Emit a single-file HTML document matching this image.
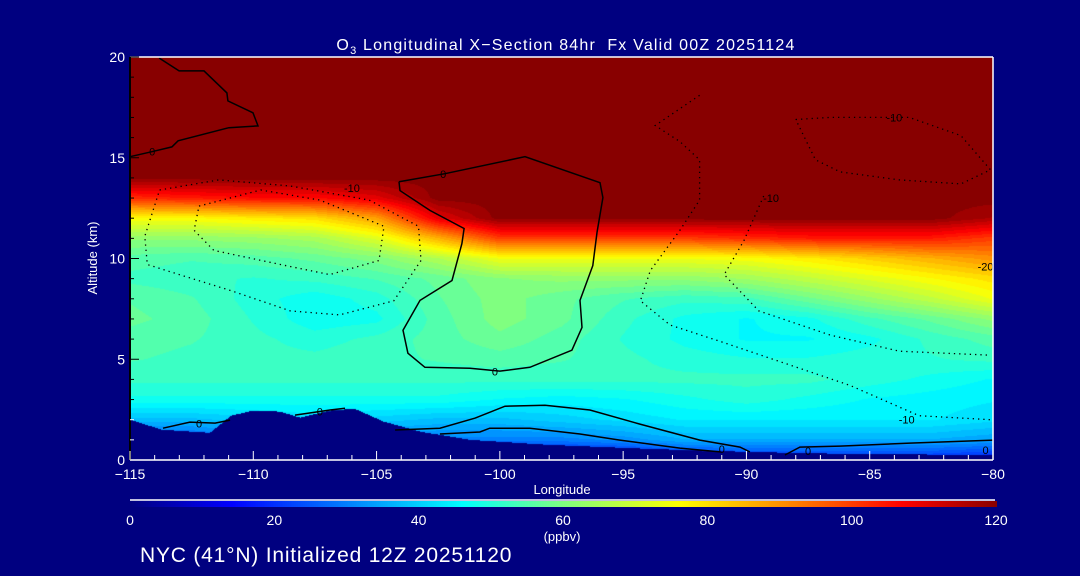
<!DOCTYPE html>
<html><head><meta charset="utf-8">
<style>
html,body{margin:0;padding:0;background:#000080;}
#wrap{position:relative;width:1080px;height:576px;background:#000080;overflow:hidden;font-family:"Liberation Sans",sans-serif;color:#fff;}
canvas{position:absolute;}
svg{position:absolute;left:0;top:0;}
</style></head>
<body>
<div id="wrap">
<canvas id="field" width="863" height="403" style="left:130px;top:57px"></canvas>
<canvas id="cbar" width="867" height="6" style="left:130px;top:501px"></canvas>
<svg id="ov" width="1080" height="576"></svg>
</div>
<script>
// ---- data ----
const lons = [-115,-112.5,-110,-107.5,-105,-102.5,-100,-97.5,-95,-92.5,-90,-87.5,-85,-82.5,-80];
const alts = [0,1,2,3,4,5,6,7,8,9,10,11,12,13,14,15,16,17,18,19,20];
const row0  = [12,12,12,12,12,12,12,12,12,16,18,18,18,18,16];
const row1  = [25,25,30,30,30,30,30,30,32,36,36,36,36,36,34];
const row2  = [38,38,40,42,40,38,38,40,42,44,44,44,44,44,42];
const row3  = [48,48,48,48,48,48,46,45,46,48,50,48,46,45,44];
const row4  = [52,52,52,52,52,52,52,52,52,52,52,52,50,48,46];
const row5  = [54,53,52,52,53,54,55,54,52,50,49,49,50,51,52];
const row6  = [55,54,52,50,52,55,58,55,51,48,46,46,48,52,55];
const row7  = [57,55,51,47,48,55,60,57,52,48,46,48,53,57,62];
const row8  = [56,54,50,47,50,56,60,57,54,52,53,58,63,68,74];
const row9  = [53,52,51,52,54,57,61,62,62,62,64,68,72,76,80];
const row10 = [55,54,55,57,60,66,74,74,74,74,75,78,82,86,90];
const row11 = [62,62,63,65,72,86,100,100,100,100,102,104,104,104,100];
const row12 = [76,76,78,80,88,110,120,120,120,120,120,120,120,120,116];
const row13 = [102,104,106,106,110,120,120,120,120,120,120,120,120,120,120];
const rowTop = [120,120,120,120,120,120,120,120,120,120,120,120,120,120,120];
const grid = [row0,row1,row2,row3,row4,row5,row6,row7,row8,row9,row10,row11,row12,row13,rowTop,rowTop,rowTop,rowTop,rowTop,rowTop,rowTop];
const terrLon = [-115,-113.7,-111.75,-110.9,-110,-108.9,-108.1,-106.9,-105.9,-104.7,-103.2,-101.2,-98,-93.9,-89.9,-85.8,-80];
const terrAlt = [2.0,1.5,1.35,2.2,2.45,2.4,2.1,2.45,2.55,1.9,1.4,1.0,0.75,0.55,0.4,0.3,0.25];
const xTicks = [-115,-110,-105,-100,-95,-90,-85,-80];
const yTicks = [0,5,10,15,20];
const cbTicks = [0,20,40,60,80,100,120];
// contours (lon, alt)
const c0LoopLon = [-104.09,-102.23,-98.98,-95.94,-95.82,-96.06,-96.23,-96.75,-96.67,-97.08,-98.78,-100,-101.21,-103.04,-103.73,-103.93,-103.24,-101.94,-101.54,-101.45,-102.83,-104.05,-104.09];
const c0LoopAlt = [13.81,14.21,15.05,13.76,13.02,11.29,9.65,7.92,6.58,5.45,4.60,4.41,4.55,4.60,5.30,6.44,7.92,8.91,10.74,11.49,12.38,13.37,13.81];
const c0ULLon = [-113.82,-113.01,-112.0,-111.07,-111.03,-110.01,-109.81,-110.99,-113.05,-113.30,-114.11,-115];
const c0ULAlt = [19.95,19.31,19.31,18.22,17.82,17.23,16.58,16.49,15.84,15.54,15.30,15.05];
const c0ALon = [-104.25,-102.43,-101.0,-99.79,-98.17,-96.35,-94.32,-91.89,-90.26,-89.86];
const c0AAlt = [1.49,1.58,2.08,2.67,2.72,2.48,1.78,0.99,0.64,0.40];
const c0BLon = [-102.43,-100.81,-100.41,-98.78,-96.75,-95.13,-92.7,-91.07];
const c0BAlt = [1.29,1.39,1.58,1.58,1.29,0.99,0.59,0.40];
const c0CLon = [-88.44,-87.83,-86.21,-83.37,-80];
const c0CAlt = [0.25,0.64,0.69,0.84,0.99];
const c0DLon = [-113.66,-112.57,-111.55,-110.94];
const c0DAlt = [1.58,1.88,1.83,1.98];
const c0ELon = [-108.31,-106.89,-106.28];
const c0EAlt = [2.23,2.48,2.57];
const cW1Lon = [-113.8,-111.4,-108.5,-105.3,-103.3,-103.2,-104.3,-106.5,-108.5,-110.9,-113.0,-114.3,-114.4,-113.8];
const cW1Alt = [13.4,13.9,13.6,12.9,11.6,9.9,7.9,7.2,7.4,8.4,9.2,9.7,11.1,13.4];
const cW2Lon = [-112.2,-109.7,-107.3,-104.7,-104.9,-106.9,-108.9,-111.6,-112.4,-112.2];
const cW2Alt = [12.6,13.4,12.9,11.6,9.9,9.2,9.7,10.4,11.4,12.6];
const cE1Lon = [-88.0,-86.6,-83.4,-81.3,-80.1,-81.3,-83.8,-86.2,-87.2,-88.0];
const cE1Alt = [16.9,17.0,17.0,16.1,14.4,13.7,13.9,14.3,14.9,16.9];
const cE2Lon = [-91.9,-93.7,-92.7,-91.9,-91.9,-92.7,-93.9,-94.3,-93.1,-91.1,-88.2,-85.8,-83.0,-80.1];
const cE2Alt = [18.1,16.6,15.8,14.9,12.9,11.4,9.4,7.9,6.7,5.9,4.7,3.7,2.2,2.0];
const cE3Lon = [-89.3,-90.1,-90.9,-89.5,-86.6,-83.8,-80.1];
const cE3Alt = [13.1,10.9,9.2,7.4,6.2,5.4,5.2];

// ---- scales ----
const X0=130,X1=993,Y0=460,Y1=57;
const xs = lon => X0 + (lon+115)/35*(X1-X0);
const ys = a => Y0 - a/20*(Y0-Y1);
const stops=[[0,[0,0,128]],[14,[0,0,255]],[30,[0,128,255]],[46,[0,255,255]],[60,[128,255,128]],[76,[255,255,0]],[92,[255,128,0]],[107,[255,0,0]],[120,[136,0,0]]];
function cmap(v){
  v=Math.max(0,Math.min(120,v));
  for(let i=1;i<stops.length;i++){ if(v<=stops[i][0]){const a=stops[i-1],b=stops[i];const t=(v-a[0])/(b[0]-a[0]);return a[1].map((c,k)=>Math.round(c+(b[1][k]-c)*t));}}
  return stops[stops.length-1][1];
}
function interp(arrX,arrY,x){
  if(x<=arrX[0])return arrY[0];
  for(let i=1;i<arrX.length;i++){if(x<=arrX[i]){const t=(x-arrX[i-1])/(arrX[i]-arrX[i-1]);return arrY[i-1]+(arrY[i]-arrY[i-1])*t;}}
  return arrY[arrY.length-1];
}
function val(lon,alt){
  const fi=(lon-lons[0])/(lons[1]-lons[0]);let i=Math.floor(fi);i=Math.max(0,Math.min(lons.length-2,i));const tx=fi-i;
  const fj=alt/(alts[1]-alts[0]);let j=Math.floor(fj);j=Math.max(0,Math.min(alts.length-2,j));const ty=fj-j;
  const a=grid[j][i],b=grid[j][i+1],c=grid[j+1][i],d=grid[j+1][i+1];
  return (a*(1-tx)+b*tx)*(1-ty)+(c*(1-tx)+d*tx)*ty;
}
// field
const fc=document.getElementById('field').getContext('2d');
const W=863,H=403;const img=fc.createImageData(W,H);
for(let py=0;py<H;py++){for(let px=0;px<W;px++){
  const lon=-115+(px+0.5)/W*35, alt=20-(py+0.5)/H*20;
  const ta=interp(terrLon,terrAlt,lon);
  let col;
  if(alt<ta){col=[0,0,128];}
  else{let v=val(lon,alt);v=Math.round(v/2.5)*2.5;col=cmap(v);}
  const k=(py*W+px)*4;img.data[k]=col[0];img.data[k+1]=col[1];img.data[k+2]=col[2];img.data[k+3]=255;
}}
fc.putImageData(img,0,0);
// colorbar
const cc=document.getElementById('cbar').getContext('2d');
for(let px=0;px<867;px++){const c=cmap(px/866*120);cc.fillStyle=`rgb(${c[0]},${c[1]},${c[2]})`;cc.fillRect(px,0,1,6);}

// ---- overlay svg ----
const NS='http://www.w3.org/2000/svg';const ov=document.getElementById('ov');
function mk(tag,attrs,parent){const e=document.createElementNS(NS,tag);for(const k in attrs)e.setAttribute(k,attrs[k]);(parent||ov).appendChild(e);return e;}
function txt(x,y,s,size,anchor,name){const t=mk('text',{x:x,y:y,fill:'#fff','font-size':size,'text-anchor':anchor||'middle','font-family':'Liberation Sans, sans-serif'});t.textContent=s;


return t;}
function contour(lonA,altA,dotted,name){
  const pts=lonA.map((l,i)=>xs(l).toFixed(1)+','+ys(altA[i]).toFixed(1)).join(' ');
  const p=mk('polyline',{points:pts,fill:'none',stroke:'#000','stroke-width':dotted?1.3:1.5,'stroke-dasharray':dotted?'1.3 4':'none'});
  
  
}
contour(c0LoopLon,c0LoopAlt,false,'contour-zero-loop');
contour(c0ULLon,c0ULAlt,false,'contour-zero-upper-left');
contour(c0ALon,c0AAlt,false,'contour-zero-surface-a');
contour(c0BLon,c0BAlt,false,'contour-zero-surface-b');
contour(c0CLon,c0CAlt,false,'contour-zero-surface-c');
contour(c0DLon,c0DAlt,false,'contour-zero-surface-d');
contour(c0ELon,c0EAlt,false,'contour-zero-surface-e');
contour(cW1Lon,cW1Alt,true,'contour-neg-west-outer');
contour(cW2Lon,cW2Alt,true,'contour-neg-west-inner');
contour(cE1Lon,cE1Alt,true,'contour-neg-east-upper');
contour(cE2Lon,cE2Alt,true,'contour-neg-east-long');
contour(cE3Lon,cE3Alt,true,'contour-neg-east-mid');
// contour labels
const lblLon=[-114.1,-102.3,-100.2,-112.2,-107.3,-91.0,-87.5,-80.3,-106.0,-84.0,-89.0,-83.5,-80.3];
const lblAlt=[15.3,14.2,4.4,1.8,2.4,0.55,0.45,0.5,13.5,17.0,13.0,2.0,9.6];
const lblTxt=['0','0','0','0','0','0','0','0','-10','-10','-10','-10','-20'];
lblLon.forEach((l,i)=>{const t=mk('text',{x:xs(l),y:ys(lblAlt[i])+4,fill:'#000','font-size':11,'text-anchor':'middle','font-family':'Liberation Sans, sans-serif'});t.textContent=lblTxt[i];

});

// axes
const ax=mk('g',{});


mk('line',{x1:X0,y1:Y1,x2:X1,y2:Y1,stroke:'#fff','stroke-width':1.5},ax);
mk('line',{x1:X1,y1:Y1,x2:X1,y2:Y0,stroke:'#fff','stroke-width':1.5},ax);
mk('line',{x1:X0,y1:Y0,x2:X1,y2:Y0,stroke:'#fff','stroke-width':1.5},ax);
mk('line',{x1:X0,y1:Y1,x2:X0,y2:Y0,stroke:'#000','stroke-width':2},ax);
for(let l=-115;l<=-80;l++){const major=xTicks.includes(l);mk('line',{x1:xs(l),y1:Y0,x2:xs(l),y2:Y0-(major?9:5),stroke:'#fff','stroke-width':1},ax);}
for(let a=0;a<=20;a++){const major=yTicks.includes(a);mk('line',{x1:X0,y1:ys(a),x2:X0+(major?9:4),y2:ys(a),stroke:a<2.3?'#fff':'#000','stroke-width':1},ax);}
xTicks.forEach(l=>txt(xs(l),Y0+19,String(l).replace('-','\u2212'),14,'middle','x-tick-label'));
yTicks.forEach(a=>txt(X0-5,ys(a)+5,String(a),14,'end','y-tick-label'));
txt(562,494,'Longitude',13,'middle','x-axis-title');
const yt=txt(0,0,'Altitude (km)',13,'middle','y-axis-title');yt.setAttribute('transform','translate(97,258) rotate(-90)');
// title
const ti=mk('text',{x:566,y:50,fill:'#fff','font-size':16,'text-anchor':'middle','letter-spacing':'1.2','font-family':'Liberation Sans, sans-serif'});


ti.innerHTML='O<tspan font-size="11" dy="4">3</tspan><tspan dy="-4"> Longitudinal X\u2212Section 84hr \u00A0Fx Valid 00Z 20251124</tspan>';
// colorbar
mk('line',{x1:130,y1:500,x2:995,y2:500,stroke:'#fff','stroke-width':1.5});
cbTicks.forEach(v=>txt(130+v/120*866,525,String(v),14,'middle','colorbar-tick-label'));
txt(562,541,'(ppbv)',13,'middle','colorbar-unit');
const cap=txt(140,562,'NYC (41\u00B0N) Initialized 12Z 20251120',21,'start','init-caption');
cap.setAttribute('letter-spacing','0.8');
</script>
</body></html>
